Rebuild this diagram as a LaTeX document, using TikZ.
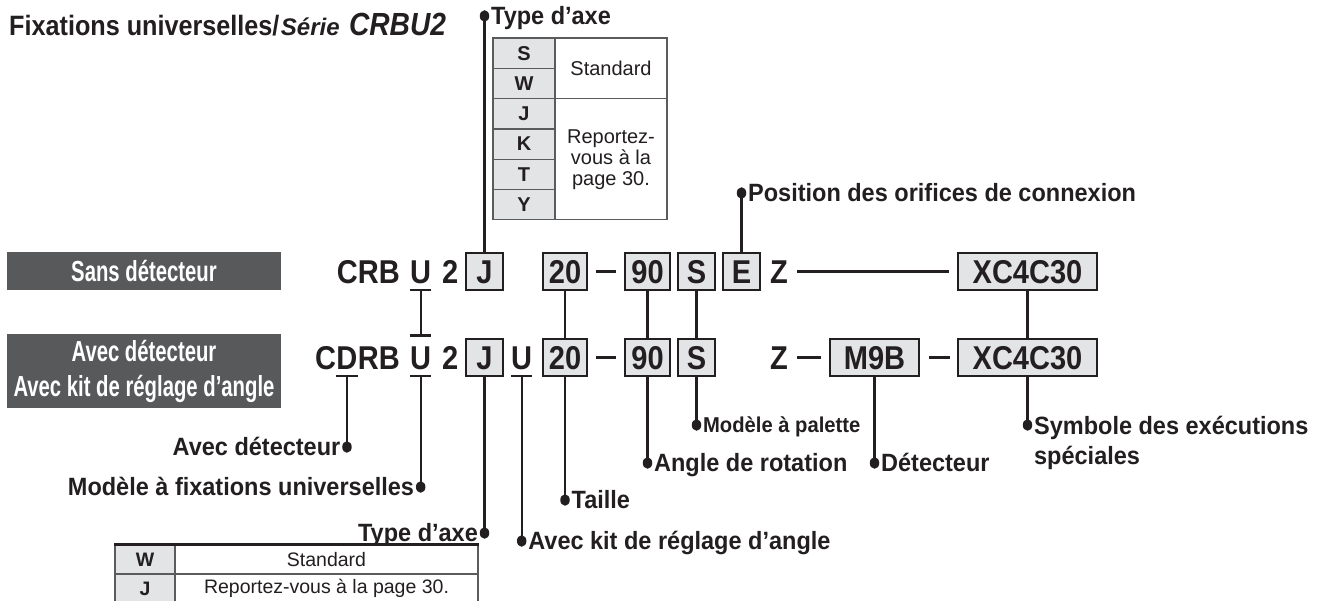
\documentclass[tikz,border=0pt]{standalone}
\usepackage{fontspec}
\setmainfont{Liberation Sans}
\newfontfamily\condfont{Liberation Sans}[FakeStretch=0.7]
\newfontfamily\titlefont{Liberation Sans}[FakeStretch=0.9]
\newfontfamily\titlecrbu{Liberation Sans}[FakeStretch=0.88]
\newfontfamily\codefont{Liberation Sans}[FakeStretch=0.88]
\newfontfamily\lblfont{Liberation Sans}[FakeStretch=0.94]
\usetikzlibrary{calc,shapes.geometric}
\definecolor{ink}{HTML}{231F20}
\definecolor{boxgray}{HTML}{E3E4E5}
\definecolor{darkbox}{HTML}{58595B}
\definecolor{rule}{HTML}{5A5B5D}
\tikzset{
  ctext/.style={font=\codefont\fontsize{33}{36}\selectfont\bfseries, inner sep=0pt, text height=23.6pt, text depth=0pt, text=ink},
  cbox/.style={ctext, draw=ink, line width=2pt, fill=boxgray, minimum height=37pt},
  conn/.style={draw=ink, line width=2.2pt},
  dashl/.style={draw=ink, line width=3.2pt},
  ul/.style={draw=ink, line width=2.4pt},
  dotn/.style={ellipse, fill=ink, inner sep=0pt, minimum width=9.5pt, minimum height=11.5pt},
  lbl/.style={font=\lblfont\fontsize{25}{28}\selectfont\bfseries, text=ink, inner sep=0pt, text height=17.9pt, text depth=0pt},
  smlbl/.style={font=\lblfont\fontsize{21.5}{24}\selectfont\bfseries, text=ink, inner sep=0pt, text height=15.4pt, text depth=0pt},
  lblm/.style={font=\lblfont\fontsize{25}{30}\selectfont\bfseries, text=ink, inner sep=0pt, align=left},
  dark/.style={fill=darkbox, text=white, font=\condfont\fontsize{29}{35}\selectfont\bfseries, align=center, inner sep=0pt},
  lcell/.style={draw=rule, line width=1.3pt, fill=boxgray, font=\fontsize{20}{22}\selectfont\bfseries, text=ink, inner sep=0pt, minimum width=62pt, minimum height=30.3pt},
  rcell/.style={draw=rule, line width=1.3pt, fill=white, font=\fontsize{20}{21}\selectfont, text=ink, inner sep=0pt, align=center},
  bcell/.style={rcell, font=\fontsize{19.5}{21}\selectfont},
  blcell/.style={lcell, font=\fontsize{19.5}{21}\selectfont\bfseries},
  ttl/.style={anchor=base west, inner sep=0pt, text=ink},
}
\begin{document}
\begin{tikzpicture}[x=1pt,y=-1pt]
\useasboundingbox[fill=white] (0,0) rectangle (1329,601);

% title
\node[ttl, font=\titlefont\fontsize{28}{30}\selectfont\bfseries] (t1) at (9,36) {Fixations universelles/};
\node[ttl, font=\fontsize{24}{27}\selectfont\bfseries\itshape] (t2) at ($(t1.base east)+(1,0)$) {Série};
\node[ttl, font=\titlecrbu\fontsize{32}{34}\selectfont\bfseries\itshape] (t3) at ($(t2.base east)+(9,0)$) {CRBU2};

% top table
\node[lcell] (tS) at (524,53.15) {S};
\node[lcell] (tW) at (524,83.45) {W};
\node[lcell] (tJ) at (524,113.75) {J};
\node[lcell] (tK) at (524,144.05) {K};
\node[lcell] (tT) at (524,174.35) {T};
\node[lcell] (tY) at (524,204.65) {Y};
\node[rcell, minimum width=112pt, minimum height=60.6pt] (tStd) at (611,68.3) {Standard};
\node[rcell, minimum width=112pt, minimum height=121.2pt] (tRep) at (611,159.2) {Reportez-\\vous à la\\page 30.};

% dark boxes
\node[dark, minimum width=274pt, minimum height=38pt] (sans) at (144,271) {Sans détecteur};
\node[dark, minimum width=274pt, minimum height=74pt] (avec) at (144,371) {Avec détecteur\\Avec kit de réglage d’angle};

% row 1
\node[ctext, anchor=base east] (r1CRB) at (400,283.3) {CRB};
\node[ctext, anchor=base west] (r1U) at (410,283.3) {U};
\node[ctext, anchor=base west] (r1two) at (442,283.3) {2};
\node[cbox, minimum width=37pt] (r1J) at (484.5,271.5) {J};
\node[cbox, minimum width=44pt] (r1s) at (565,271.5) {20};
\node[cbox, minimum width=45pt] (r1a) at (647.5,271.5) {90};
\node[cbox, minimum width=37pt] (r1p) at (696.5,271.5) {S};
\node[cbox, minimum width=37pt] (r1E) at (741.5,271.5) {E};
\node[ctext, anchor=base west] (r1Z) at (770,283.3) {Z};
\node[cbox, minimum width=139pt] (r1X) at (1027.5,271.5) {XC4C30};

\draw[dashl] ($(r1s.east)+(8,0)$) -- ($(r1a.west)+(-8,0)$);
\draw[conn] ($(r1Z.east)+(9,0)$) -- ($(r1X.west)+(-8,0)$);
\draw[ul] ($(r1U.base west)+(0,6.5)$) -- ($(r1U.base east)+(0,6.5)$);

% row 2
\node[ctext, anchor=base east] (r2RB) at (400,369.3) {RB};
\node[ctext, anchor=base east] (r2D) at (r2RB.base west) {D};
\node[ctext, anchor=base east] (r2C) at (r2D.base west) {C};
\node[ctext, anchor=base west] (r2U) at (410,369.3) {U};
\node[ctext, anchor=base west] (r2two) at (442,369.3) {2};
\node[cbox, minimum width=37pt] (r2J) at (484.5,357.5) {J};
\node[ctext, anchor=base west] (r2Ub) at (511,369.3) {U};
\node[cbox, minimum width=44pt] (r2s) at (565,357.5) {20};
\node[cbox, minimum width=45pt] (r2a) at (647.5,357.5) {90};
\node[cbox, minimum width=37pt] (r2p) at (696.5,357.5) {S};
\node[ctext, anchor=base west] (r2Z) at (770,369.3) {Z};
\node[cbox, minimum width=89pt] (r2M) at (874.5,357.5) {M9B};
\node[cbox, minimum width=139pt] (r2X) at (1027.5,357.5) {XC4C30};

\draw[dashl] ($(r2s.east)+(8,0)$) -- ($(r2a.west)+(-8,0)$);
\draw[dashl] ($(r2Z.east)+(9,0)$) -- ($(r2M.west)+(-8,0)$);
\draw[dashl] ($(r2M.east)+(9,0)$) -- ($(r2X.west)+(-7,0)$);

\draw[ul] ($(r2U.base west)+(0,-34)$) -- ($(r2U.base east)+(0,-34)$);
\draw[ul] ($(r2U.base west)+(0,6.5)$) -- ($(r2U.base east)+(0,6.5)$);
\draw[ul] ($(r2D.base west)+(0,6.5)$) -- ($(r2D.base east)+(0,6.5)$);
\draw[ul] ($(r2Ub.base west)+(0,6.5)$) -- ($(r2Ub.base east)+(0,6.5)$);

% connectors between rows
\draw[conn] ($(r1U.base)+(0,6.5)$) -- ($(r2U.base)+(0,-34)$);
\draw[conn] (r1s) -- (r2s);
\draw[conn] (r1a) -- (r2a);
\draw[conn] (r1p) -- (r2p);
\draw[conn] (r1X) -- (r2X);

% top labels
\node[dotn] (dTop) at (484.5,16) {};
\node[lbl, anchor=west] (lTop) at ($(dTop.east)+(1.5,0)$) {Type d’axe};
\draw[conn] (dTop.center) -- (r1J.north);
\node[dotn] (dPos) at (741.5,193) {};
\node[lbl, anchor=west] (lPos) at ($(dPos.east)+(1.5,0)$) {Position des orifices de connexion};
\draw[conn] (dPos.center) -- (r1E.north);

% bottom labels
\coordinate (r2Dul) at ($(r2D.base)+(0,6.5)$);
\coordinate (r2Uul) at ($(r2U.base)+(0,6.5)$);
\coordinate (r2Ubul) at ($(r2Ub.base)+(0,6.5)$);

\node[dotn] (dD) at (r2Dul |- 0,447) {};
\draw[conn] (r2Dul) -- (dD.center);
\node[lbl, anchor=east] (lD) at ($(dD.west)+(-1.5,0)$) {Avec détecteur};

\node[dotn] (dU) at (r2Uul |- 0,487) {};
\draw[conn] (r2Uul) -- (dU.center);
\node[lbl, anchor=east] (lU) at ($(dU.west)+(-1.5,0)$) {Modèle à fixations universelles};

\node[dotn] (dJ) at (r2J.south |- 0,533) {};
\draw[conn] (r2J.south) -- (dJ.center);
\node[lbl, anchor=east] (lJ) at ($(dJ.west)+(-1.5,0)$) {Type d’axe};

\node[dotn] (dUb) at (r2Ubul |- 0,541) {};
\draw[conn] (r2Ubul) -- (dUb.center);
\node[lbl, anchor=west] (lUb) at ($(dUb.east)+(1.5,0)$) {Avec kit de réglage d’angle};

\node[dotn] (dT) at (r2s.south |- 0,500) {};
\draw[conn] (r2s.south) -- (dT.center);
\node[lbl, anchor=west] (lT) at ($(dT.east)+(1.5,0)$) {Taille};

\node[dotn] (dA) at (r2a.south |- 0,463) {};
\draw[conn] (r2a.south) -- (dA.center);
\node[lbl, anchor=west] (lA) at ($(dA.east)+(1.5,0)$) {Angle de rotation};

\node[dotn] (dP) at (r2p.south |- 0,425) {};
\draw[conn] (r2p.south) -- (dP.center);
\node[smlbl, anchor=west] (lP) at ($(dP.east)+(1.5,0)$) {Modèle à palette};

\node[dotn] (dM) at (r2M.south |- 0,463) {};
\draw[conn] (r2M.south) -- (dM.center);
\node[lbl, anchor=west] (lM) at ($(dM.east)+(1.5,0)$) {Détecteur};

\node[dotn] (dX) at (r2X.south |- 0,425) {};
\draw[conn] (r2X.south) -- (dX.center);
\node[lblm, anchor=north west] (lX) at ($(dX.east)+(1.5,-9.4)$) {Symbole des exécutions\\spéciales};

% bottom table
\node[blcell, minimum width=60pt, minimum height=29pt] (bW) at (145,559.5) {W};
\node[bcell, minimum width=303pt, minimum height=29pt] (bStd) at (326.5,559.5) {Standard};
\node[blcell, minimum width=60pt, minimum height=29pt] (bJ) at (145,588.5) {J};
\node[bcell, minimum width=303pt, minimum height=29pt] (bRep) at (326.5,588.5) {Reportez-vous à la page 30.};
\draw[ink, line width=2.4pt] (bW.north west) -- (bStd.north east);
\end{tikzpicture}
\end{document}
